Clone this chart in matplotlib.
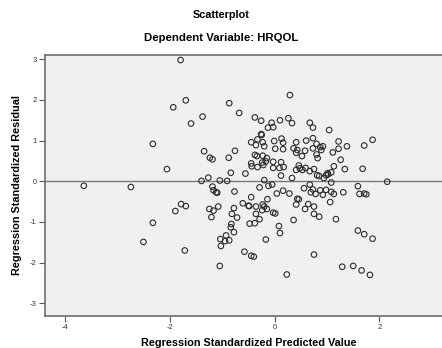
import matplotlib
matplotlib.use("Agg")
import matplotlib.pyplot as plt
import numpy as np

plt.rcParams['font.family'] = ['Liberation Sans', 'DejaVu Sans']

# --- datos (valor pronosticado, residuo estandarizado)
pred = [-3.65, -2.75, -2.51, -2.33, -2.33, -2.06, -1.94, -1.90, -1.80, -1.79,
        -1.70, -1.70, -1.72, -1.60, -1.40, -1.38, -1.35, -1.27, -1.25, -1.24,
        -1.21, -1.19, -1.19, -1.17, -1.17, -1.12, -1.10, -1.08, -1.05, -1.05,
        -1.04, -1.03, -0.95, -0.93, -0.91, -0.88, -0.87, -0.87, -0.84, -0.84,
        -0.83, -0.82, -0.78, -0.78, -0.77, -0.76, -0.72, -0.68, -0.56, -0.45,
        -0.45, -0.44, -0.38, -0.38, -0.36, -0.34, -0.33, -0.33, -0.26, -0.26,
        -0.25, -0.23, -0.23, -0.24, -0.22, -0.20, -0.20, -0.17, -0.15, -0.13,
        -0.06, -0.03, -0.03, -0.03, -0.01, 0.01, 0.10, 0.09, 0.12, 0.12,
        0.13, 0.16, 0.16, 0.17, 0.26, 0.29, 0.33, 0.33, 0.36, 0.41,
        0.41, 0.41, 0.43, 0.46, 0.48, 0.52, 0.53, 0.58, 0.59, 0.60,
        0.67, 0.67, 0.73, 0.73, 0.73, 0.75, 0.80, 0.80, 0.82, 0.81,
        0.85, 0.87, 0.89, 0.92, 0.94, 0.98, 1.01, 1.02, 1.04, 1.08,
        1.08, 1.11, 1.13, 1.22, 1.22, 1.26, 1.34, 1.38, 1.68, 1.71,
        1.87, 2.15, -0.29, -0.12, -0.05, 0.56, 0.67, 0.73, 0.87, 0.98,
        1.59, -0.45, -0.61, -0.50, -0.49, -0.36, -0.23, -0.20, -0.14, 0.04,
        0.16, 0.28, 0.41, 0.46, 0.43, 0.69, 0.78, 0.92, 1.08, 1.13,
        1.06, 0.64, 0.75, 0.58, 1.31, 1.62, 1.71, 1.75, -0.36, -0.24,
        -0.15, -0.03, 0.01, 0.75, 0.85, 0.36, 1.17, -0.29, -0.48, -0.38,
        0.08, 0.10, -0.17, 1.59, 1.71, 1.87, -0.58, -0.45, -0.40, 0.75,
        0.23, 1.29, 1.50, 1.66, 1.82]
resid = [-0.11, -0.14, -1.49, 0.92, -1.02, 0.30, 1.82, -0.73, 2.98, -0.56,
         1.99, -0.61, -1.70, 1.42, 0.01, 1.59, 0.74, 0.09, -0.68, 0.58,
         -0.88, -0.13, 0.54, -0.72, -0.22, -0.27, -0.28, -0.62, 0.02, -2.08,
         -1.42, -1.59, -1.47, -1.33, 0.01, 0.58, 1.92, -1.45, 0.21, -1.13,
         -1.05, -0.80, -0.66, -1.25, -0.25, 0.75, -0.89, 1.68, 0.19, 0.96,
         0.44, 0.37, 1.57, 0.65, 0.89, 0.62, 1.03, 0.35, 1.49, 1.16,
         1.14, 0.96, 0.63, 0.46, 0.40, 0.86, 0.03, 0.49, 0.57, 1.32,
         1.44, 1.33, 0.48, 0.33, 0.99, 0.80, 1.50, 0.33, 0.47, 0.14,
         1.05, 0.95, 0.79, 0.35, 1.55, 2.12, 1.43, 0.08, 0.81, 0.96,
         0.70, 0.28, 0.77, 0.39, 0.32, 0.62, 0.28, 0.75, 0.33, 1.00,
         1.44, 0.25, 1.32, 1.06, 0.81, 0.30, 0.92, 0.66, 0.57, 0.15,
         0.13, 0.84, 0.77, 0.86, 0.08, 0.15, 0.20, 0.17, 1.26, 0.22,
         -0.03, 0.71, 0.37, 0.98, 0.80, 0.53, 0.30, 0.86, 0.31, 0.88,
         1.02, -0.01, -0.15, -0.11, -0.08, -0.17, -0.08, -0.20, -0.22, -0.21,
         -0.12, -0.39, -0.54, -0.60, -0.61, -0.62, -0.57, -0.62, -0.44, -0.30,
         -0.23, -0.30, -0.57, -0.44, -0.43, -0.27, -0.31, -0.33, -0.26, -0.31,
         -0.51, -0.56, -0.62, -0.68, -0.27, -0.31, -0.30, -0.32, -0.80, -0.71,
         -0.68, -0.77, -0.79, -0.80, -0.87, -0.95, -0.93, -0.93, -1.04, -1.03,
         -1.10, -1.27, -1.43, -1.21, -1.30, -1.41, -1.73, -1.83, -1.85, -1.80,
         -2.29, -2.10, -2.08, -2.19, -2.30]

xticks = [-4, -2, 0, 2]
yticks = [-3, -2, -1, 0, 1, 2, 3]

fig = plt.figure(figsize=(4.42, 3.48), dpi=100)
ax = fig.add_axes([0.102, 0.092, 0.922, 0.75])
ax.set_facecolor('#f0f0f0')

ax.axhline(0, color='#7a7a7a', linewidth=1.0, zorder=1)
ax.scatter(pred, resid, s=16, facecolors='none', edgecolors='#2b2b2b',
           linewidths=0.8, zorder=2)

ax.set_xlim(-4.39, 3.4)
ax.set_ylim(-3.31, 3.105)
ax.set_xticks(xticks)
ax.set_xticklabels([str(t) for t in xticks])
ax.set_yticks(yticks)
ax.set_yticklabels([str(t) for t in yticks])
ax.tick_params(axis='both', direction='out', length=4, width=0.8,
               color='#555555', labelsize=5.5, labelcolor='#333333', pad=2)

for sp in ax.spines.values():
    sp.set_color('#6e6e6e')
    sp.set_linewidth(1.2)

ax.set_xlabel('Regression Standardized Predicted Value', fontsize=7.8,
              fontweight='bold', labelpad=5)
ax.set_ylabel('Regression Standardized Residual', fontsize=7.8,
              fontweight='bold', labelpad=6)

fig.text(0.50, 0.957, 'Scatterplot', ha='center', va='center',
         fontsize=7.8, fontweight='bold')
fig.text(0.50, 0.89, 'Dependent Variable: HRQOL', ha='center', va='center',
         fontsize=8.2, fontweight='bold')

plt.savefig('out.png', dpi=100)
